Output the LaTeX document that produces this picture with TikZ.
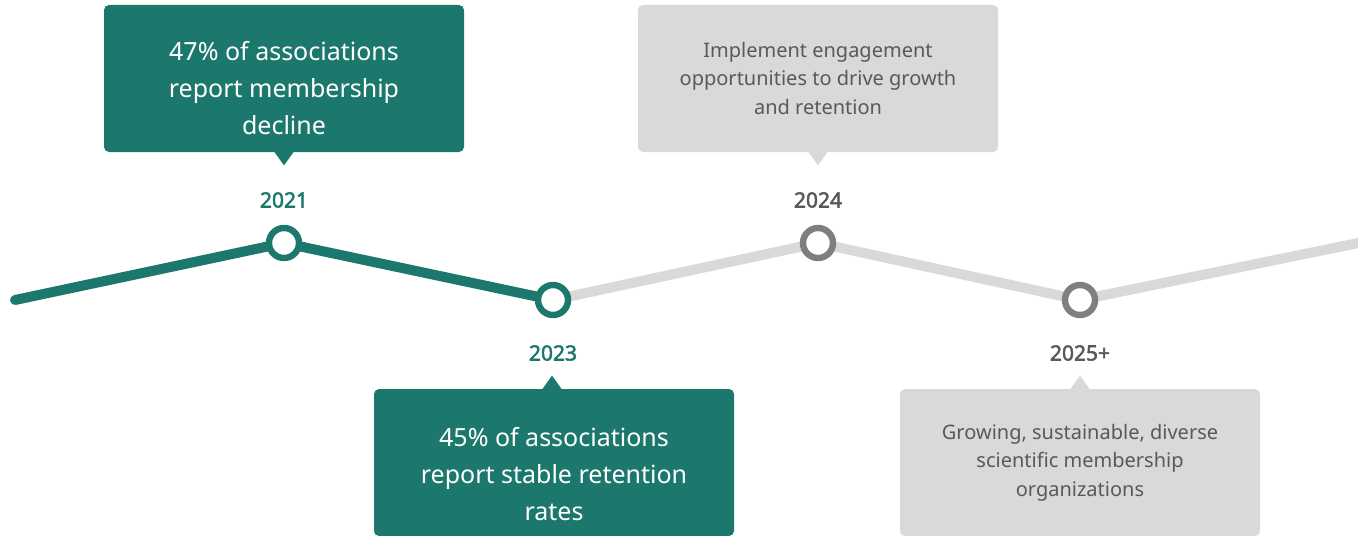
\documentclass[tikz,border=0pt]{standalone}
\usepackage{fontspec}
\setmainfont{Noto Sans}
\newfontfamily\yearfont{Noto Sans}[FakeBold=2.5]
\usepackage{tikz}
\usetikzlibrary{positioning,backgrounds}

\definecolor{tealc}{RGB}{28,120,108}
\definecolor{boxgray}{RGB}{217,217,217}
\definecolor{txtgray}{RGB}{89,89,89}
\definecolor{dotgray}{RGB}{127,127,127}

\begin{document}
\begin{tikzpicture}[x=0.5pt,y=-0.5pt,
	tealbox/.style={fill=tealc,rounded corners=2.5pt,minimum width=180pt,minimum height=73.5pt,inner sep=0pt},
	graybox/.style={fill=boxgray,rounded corners=2.5pt,minimum width=180pt,minimum height=73.5pt,inner sep=0pt},
	tealtxt/.style={text=white,align=center,font=\fontsize{12.5}{18.5}\selectfont},
	graytxt/.style={text=txtgray,align=center,font=\fontsize{10}{14.2}\selectfont},
	year/.style={font=\yearfont\fontsize{10.5}{12}\selectfont},
	dot/.style={circle,fill=white,line width=3.2pt,minimum size=15pt,inner sep=0pt},
	track/.style={line width=5pt}]

	\useasboundingbox (0,0) rectangle (1358,535);

	% milestones on the track
	\node[dot,draw=tealc] (c21) at (284,243) {};
	\node[dot,draw=tealc] (c23) at (553,300) {};
	\node[dot,draw=dotgray] (c24) at (818,243) {};
	\node[dot,draw=dotgray] (c25) at (1080,300) {};
	\coordinate (start) at (15,300);
	\coordinate (finish) at (1368,241);

	\begin{scope}[on background layer]
		\draw[track,tealc,line cap=round] (start) -- (c21.center) -- (c23.center);
		\draw[track,boxgray] (c23.center) -- (c24.center) -- (c25.center) -- (finish);
	\end{scope}

	% years
	\node[year,text=tealc] (y21) at (284,200) {2021};
	\node[year,text=tealc] (y23) at (553,353) {2023};
	\node[year,text=txtgray] (y24) at (818,200) {2024};
	\node[year,text=txtgray] (y25) at (1080,353) {2025+};

	% callouts
	\node[tealbox] (b21) at (284,78.5) {};
	\node[tealbox] (b23) at (554,462.5) {};
	\node[graybox] (b24) at (818,78.5) {};
	\node[graybox] (b25) at (1080,462.5) {};

	\fill[tealc] ([xshift=-5pt,yshift=0.5pt]b21.south) -- ([xshift=5pt,yshift=0.5pt]b21.south) -- ([yshift=-6.5pt]b21.south) -- cycle;
	\fill[tealc] ([xshift=-6pt,yshift=-0.5pt]b23.north) -- ([xshift=4pt,yshift=-0.5pt]b23.north) -- ([xshift=-1pt,yshift=6.5pt]b23.north) -- cycle;
	\fill[boxgray] ([xshift=-5pt,yshift=0.5pt]b24.south) -- ([xshift=5pt,yshift=0.5pt]b24.south) -- ([yshift=-6.5pt]b24.south) -- cycle;
	\fill[boxgray] ([xshift=-5pt,yshift=-0.5pt]b25.north) -- ([xshift=5pt,yshift=-0.5pt]b25.north) -- ([yshift=6.5pt]b25.north) -- cycle;

	\node[tealtxt,yshift=-5pt] (t21) at (b21) {47\% of associations\\report membership\\decline};
	\node[tealtxt,yshift=-6pt] (t23) at (b23) {45\% of associations\\report stable retention\\rates};
	\node[graytxt] (t24) at (b24) {Implement engagement\\opportunities to drive growth\\and retention};
	\node[graytxt] (t25) at (b25) {Growing, sustainable, diverse\\scientific membership\\organizations};

\end{tikzpicture}
\end{document}
